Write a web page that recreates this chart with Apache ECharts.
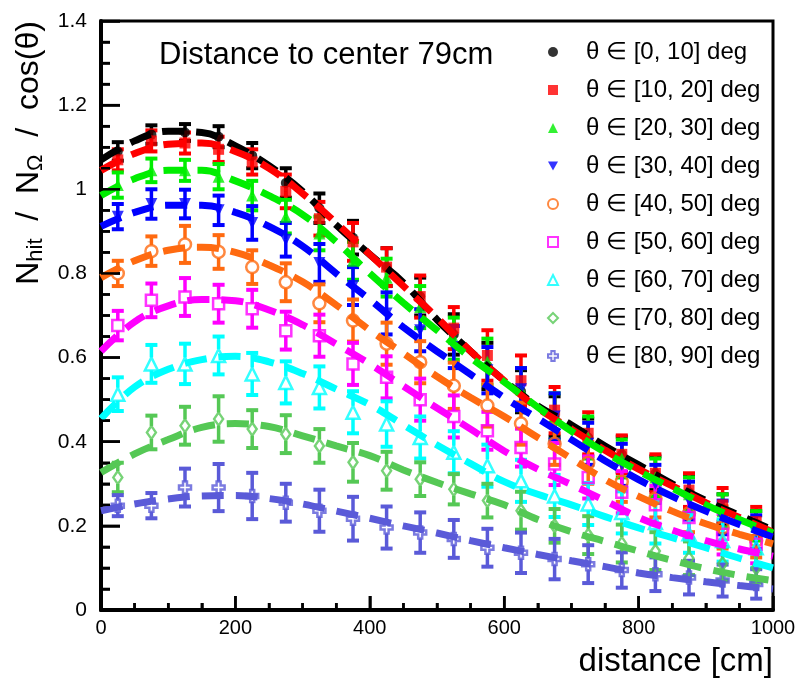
<!DOCTYPE html>
<html>
<head>
<meta charset="utf-8">
<title>Nhit / NΩ / cos(θ) vs distance</title>
<script src="https://cdn.jsdelivr.net/npm/echarts@6/dist/echarts.min.js"></script>
<style>
  html, body { margin: 0; padding: 0; background: #ffffff; }
  #chart { width: 799px; height: 685px; }
  /* text description of the figure for screen readers */
  #caption { position: absolute; left: 4px; top: 664px; font: 11px "DejaVu Sans Mono", monospace; color: #ffffff; }
</style>
</head>
<body>
<div id="chart"></div>
<div id="caption"></div>
<script>
// Distance bin centres [cm] of the measured points
const distances = [25, 75, 125, 175, 225, 275, 325, 375, 425, 475,
                   525, 575, 625, 675, 725, 775, 825, 875, 925, 975];
// Distances [cm] at which the fitted curves are sampled
const fitDistances = [0, 50, 100, 150, 200, 250, 300, 350, 400, 450, 500,
                      550, 600, 650, 700, 750, 800, 850, 900, 950, 1000];

const binLabels = ['θ ∈ [0, 10] deg', 'θ ∈ [10, 20] deg', 'θ ∈ [20, 30] deg',
                   'θ ∈ [30, 40] deg', 'θ ∈ [40, 50] deg', 'θ ∈ [50, 60] deg',
                   'θ ∈ [60, 70] deg', 'θ ∈ [70, 80] deg', 'θ ∈ [80, 90] deg'];

const xTicks = { min: 0, max: 1000, step: 200, minorStep: 50 };
const yTicks = { min: 0, max: 1.4, step: 0.2, minorStep: 0.05 };

// θ ∈ [0, 10]
const ratio0 = [1.09, 1.13, 1.135, 1.125, 1.08, 1.015, 0.955, 0.885, 0.815, 0.745,
                0.655, 0.58, 0.52, 0.46, 0.41, 0.37, 0.325, 0.28, 0.24, 0.205];
const err0   = [0.022, 0.022, 0.02, 0.025, 0.03, 0.035, 0.035, 0.04, 0.045, 0.045,
                0.048, 0.055, 0.05, 0.048, 0.045, 0.042, 0.04, 0.038, 0.035, 0.03];
const fit0   = [1.07, 1.115, 1.138, 1.135, 1.103, 1.056, 0.995, 0.915, 0.845, 0.778, 0.69,
                0.615, 0.545, 0.485, 0.44, 0.39, 0.345, 0.30, 0.26, 0.225, 0.19];

// θ ∈ [10, 20]
const ratio10 = [1.07, 1.115, 1.11, 1.095, 1.065, 0.995, 0.93, 0.875, 0.815, 0.745,
                 0.67, 0.605, 0.545, 0.475, 0.42, 0.37, 0.325, 0.285, 0.25, 0.21];
const err10   = [0.025, 0.025, 0.025, 0.03, 0.03, 0.04, 0.04, 0.045, 0.045, 0.05,
                 0.05, 0.06, 0.06, 0.055, 0.05, 0.045, 0.045, 0.04, 0.04, 0.035];
const fit10   = [1.045, 1.085, 1.107, 1.11, 1.09, 1.05, 0.99, 0.92, 0.845, 0.77, 0.695,
                 0.615, 0.545, 0.48, 0.43, 0.38, 0.335, 0.295, 0.255, 0.22, 0.185];

// θ ∈ [20, 30]
const ratio20 = [1.01, 1.045, 1.045, 1.03, 0.985, 0.935, 0.895, 0.83, 0.79, 0.72,
                 0.645, 0.59, 0.525, 0.46, 0.41, 0.36, 0.315, 0.275, 0.235, 0.2];
const err20   = [0.03, 0.028, 0.025, 0.03, 0.035, 0.04, 0.04, 0.045, 0.045, 0.05,
                 0.05, 0.055, 0.05, 0.055, 0.05, 0.045, 0.045, 0.04, 0.04, 0.035];
const fit20   = [0.985, 1.025, 1.045, 1.045, 1.02, 0.985, 0.94, 0.875, 0.8, 0.73, 0.665,
                 0.6, 0.542, 0.482, 0.425, 0.375, 0.33, 0.29, 0.25, 0.215, 0.183];

// θ ∈ [30, 40]
const ratio30 = [0.935, 0.965, 0.965, 0.95, 0.92, 0.88, 0.825, 0.77, 0.705, 0.665,
                 0.625, 0.57, 0.525, 0.46, 0.395, 0.345, 0.3, 0.26, 0.22, 0.185];
const err30   = [0.03, 0.035, 0.034, 0.035, 0.04, 0.04, 0.045, 0.045, 0.05, 0.05,
                 0.05, 0.055, 0.05, 0.055, 0.05, 0.05, 0.045, 0.045, 0.04, 0.04];
const fit30   = [0.912, 0.945, 0.962, 0.962, 0.945, 0.912, 0.865, 0.8, 0.738, 0.672, 0.615,
                 0.56, 0.505, 0.455, 0.405, 0.355, 0.31, 0.27, 0.235, 0.203, 0.173];

// θ ∈ [40, 50]
const ratio40 = [0.80, 0.853, 0.869, 0.851, 0.815, 0.779, 0.729, 0.688, 0.633, 0.589,
                 0.533, 0.486, 0.443, 0.395, 0.35, 0.305, 0.265, 0.23, 0.196, 0.165];
const err40   = [0.03, 0.035, 0.044, 0.04, 0.04, 0.045, 0.045, 0.05, 0.05, 0.05,
                 0.055, 0.05, 0.05, 0.05, 0.05, 0.048, 0.045, 0.045, 0.05, 0.04];
const fit40   = [0.79, 0.83, 0.855, 0.862, 0.85, 0.82, 0.78, 0.725, 0.665, 0.61, 0.555,
                 0.505, 0.46, 0.41, 0.36, 0.31, 0.27, 0.235, 0.205, 0.18, 0.157];

// θ ∈ [50, 60]
const ratio50 = [0.676, 0.736, 0.744, 0.728, 0.716, 0.664, 0.652, 0.585, 0.553, 0.50,
                 0.46, 0.426, 0.386, 0.347, 0.315, 0.28, 0.25, 0.22, 0.18, 0.156];
const err50   = [0.035, 0.04, 0.045, 0.045, 0.045, 0.045, 0.05, 0.05, 0.05, 0.05,
                 0.05, 0.045, 0.045, 0.05, 0.05, 0.05, 0.045, 0.05, 0.048, 0.045];
const fit50   = [0.615, 0.685, 0.723, 0.738, 0.735, 0.713, 0.678, 0.632, 0.585, 0.532, 0.48,
                 0.43, 0.378, 0.335, 0.298, 0.26, 0.22, 0.19, 0.165, 0.145, 0.128];

// θ ∈ [60, 70]
const ratio60 = [0.513, 0.585, 0.585, 0.605, 0.561, 0.541, 0.529, 0.47, 0.442, 0.41,
                 0.375, 0.343, 0.307, 0.271, 0.252, 0.232, 0.208, 0.181, 0.165, 0.148];
const err60   = [0.04, 0.045, 0.048, 0.045, 0.05, 0.05, 0.05, 0.05, 0.054, 0.05,
                 0.05, 0.05, 0.05, 0.05, 0.05, 0.05, 0.05, 0.045, 0.05, 0.048];
const fit60   = [0.455, 0.53, 0.572, 0.595, 0.603, 0.59, 0.562, 0.525, 0.488, 0.44, 0.392,
                 0.348, 0.305, 0.275, 0.25, 0.222, 0.195, 0.172, 0.148, 0.123, 0.10];

// θ ∈ [70, 80]
const ratio70 = [0.315, 0.422, 0.438, 0.454, 0.43, 0.418, 0.39, 0.351, 0.331, 0.311,
                 0.287, 0.26, 0.236, 0.2, 0.178, 0.158, 0.14, 0.123, 0.11, 0.1];
const err70   = [0.035, 0.04, 0.045, 0.054, 0.045, 0.045, 0.04, 0.046, 0.045, 0.04,
                 0.036, 0.04, 0.045, 0.04, 0.045, 0.045, 0.045, 0.04, 0.04, 0.035];
const fit70   = [0.327, 0.371, 0.405, 0.434, 0.443, 0.436, 0.414, 0.39, 0.367, 0.333, 0.303,
                 0.276, 0.25, 0.215, 0.186, 0.163, 0.14, 0.118, 0.098, 0.082, 0.07];

// θ ∈ [80, 90]
const ratio80 = [0.248, 0.248, 0.291, 0.291, 0.271, 0.255, 0.236, 0.217, 0.196, 0.184,
                 0.169, 0.148, 0.136, 0.121, 0.109, 0.095, 0.085, 0.077, 0.07, 0.062];
const err80   = [0.025, 0.03, 0.045, 0.056, 0.055, 0.045, 0.05, 0.052, 0.05, 0.048,
                 0.045, 0.045, 0.048, 0.048, 0.045, 0.042, 0.04, 0.04, 0.038, 0.035];
const fit80   = [0.236, 0.252, 0.264, 0.271, 0.272, 0.265, 0.252, 0.235, 0.218, 0.2, 0.183,
                 0.165, 0.148, 0.132, 0.117, 0.103, 0.088, 0.077, 0.067, 0.058, 0.05];

const ratios = [ratio0, ratio10, ratio20, ratio30, ratio40, ratio50, ratio60, ratio70, ratio80];
const errors = [err0, err10, err20, err30, err40, err50, err60, err70, err80];
const fits   = [fit0, fit10, fit20, fit30, fit40, fit50, fit60, fit70, fit80];

// Marker appearance per θ bin (filled markers first, then open ones)
const plusPath = 'path://M-1,-3 L1,-3 L1,-1 L3,-1 L3,1 L1,1 L1,3 L-1,3 L-1,1 L-3,1 L-3,-1 L-1,-1 Z';
const downTriangle = 'path://M-5,-4 L5,-4 L0,5 Z';
const markerStyles = [
  { color: '#000000', symbol: 'circle',     size: 10,      open: false },
  { color: '#ff0000', symbol: 'rect',       size: 11,      open: false },
  { color: '#00ee00', symbol: 'triangle',   size: 12,      open: false },
  { color: '#0000ff', symbol: downTriangle, size: 12,      open: false },
  { color: '#ff6a10', symbol: 'circle',     size: 12,      open: true  },
  { color: '#ff00ff', symbol: 'rect',       size: 11,      open: true  },
  { color: '#00ffff', symbol: 'triangle',   size: 13,      open: true  },
  { color: '#55c855', symbol: 'diamond',    size: [9, 13], open: true  },
  { color: '#5a5ad8', symbol: plusPath,     size: 12,      open: true  }
];

const FONT = '"Liberation Sans", Arial, Helvetica, sans-serif';

// Vertical error bar with end caps; for open markers the bar stops at the marker edge
function errorBarSeries(idx) {
  const st = markerStyles[idx];
  const gap = st.open ? (Array.isArray(st.size) ? st.size[1] : st.size) / 2 : 0;
  return {
    type: 'custom',
    name: 'err ' + binLabels[idx],
    dimensions: ['x', 'y', 'e'],
    encode: { x: 0, y: 1 },
    data: distances.map((d, i) => [d, ratios[idx][i], errors[idx][i]]),
    renderItem: function (params, api) {
      const x = api.value(0), y = api.value(1), e = api.value(2);
      const hi = api.coord([x, y + e]);
      const lo = api.coord([x, y - e]);
      const c = api.coord([x, y]);
      const style = { stroke: st.color, lineWidth: 3.5 };
      const capStyle = { stroke: st.color, lineWidth: 4 };
      const w = 6;
      return {
        type: 'group',
        children: [
          { type: 'line', shape: { x1: c[0], y1: lo[1], x2: c[0], y2: c[1] + gap }, style: style },
          { type: 'line', shape: { x1: c[0], y1: c[1] - gap, x2: c[0], y2: hi[1] }, style: style },
          { type: 'line', shape: { x1: c[0] - w, y1: hi[1], x2: c[0] + w, y2: hi[1] }, style: capStyle },
          { type: 'line', shape: { x1: c[0] - w, y1: lo[1], x2: c[0] + w, y2: lo[1] }, style: capStyle }
        ]
      };
    }
  };
}

function fitSeries(idx) {
  return {
    type: 'line',
    name: 'fit ' + binLabels[idx],
    data: fitDistances.map((d, i) => [d, fits[idx][i]]),
    symbol: 'none',
    smooth: 0.4,
    lineStyle: { color: markerStyles[idx].color, width: 7, type: [22, 12] }
  };
}

function pointSeries(idx) {
  const st = markerStyles[idx];
  return {
    type: 'scatter',
    name: binLabels[idx],
    data: distances.map((d, i) => [d, ratios[idx][i]]),
    symbol: st.symbol,
    symbolSize: st.size,
    itemStyle: st.open
      ? { color: 'rgba(255,255,255,0)', borderColor: st.color, borderWidth: 2.5 }
      : { color: st.color, borderWidth: 0 }
  };
}

// Inward-pointing frame ticks (major + minor) placed through the axis scales.
// Each entry: [x value, y value, axis (0 = x, 1 = y), tick length in px]
function frameTickSeries() {
  const ticks = [];
  const nx = Math.round((xTicks.max - xTicks.min) / xTicks.minorStep);
  const xEvery = Math.round(xTicks.step / xTicks.minorStep);
  for (let k = 0; k <= nx; k++) {
    ticks.push([xTicks.min + k * xTicks.minorStep, yTicks.min, 0, k % xEvery === 0 ? 14 : 7]);
  }
  const ny = Math.round((yTicks.max - yTicks.min) / yTicks.minorStep);
  const yEvery = Math.round(yTicks.step / yTicks.minorStep);
  for (let k = 0; k <= ny; k++) {
    const v = +(yTicks.min + k * yTicks.minorStep).toFixed(4);
    ticks.push([xTicks.min, v, 1, k % yEvery === 0 ? 19 : 9]);
  }
  return {
    type: 'custom',
    name: 'frame ticks',
    silent: true,
    z: 5,
    dimensions: ['x', 'y', 'axis', 'len'],
    encode: { x: 0, y: 1 },
    data: ticks,
    renderItem: function (params, api) {
      const p = api.coord([api.value(0), api.value(1)]);
      const axis = api.value(2), len = api.value(3);
      const style = { stroke: '#000', lineWidth: 2.5 };
      if (axis === 0) {
        return { type: 'line', shape: { x1: p[0], y1: p[1], x2: p[0], y2: p[1] - len }, style: style };
      }
      return { type: 'line', shape: { x1: p[0], y1: p[1], x2: p[0] + len, y2: p[1] }, style: style };
    }
  };
}

const series = [];
for (let i = 0; i < binLabels.length; i++) {
  series.push(fitSeries(i));
  series.push(errorBarSeries(i));
  series.push(pointSeries(i));
}
series.push(frameTickSeries());

const chart = echarts.init(document.getElementById('chart'));

chart.setOption({
  animation: false,
  grid: {
    left: 101, right: 26, top: 21, bottom: 75,
    show: true, borderColor: '#000000', borderWidth: 3
  },
  xAxis: {
    type: 'value',
    min: xTicks.min, max: xTicks.max, interval: xTicks.step,
    axisLine: { show: true, onZero: false, lineStyle: { color: '#000', width: 4 } },
    axisTick: { show: true, inside: true, length: 14, lineStyle: { color: '#000', width: 2.5 } },
    minorTick: { show: true, splitNumber: 4, length: 7, lineStyle: { color: '#000', width: 2.5 } },
    splitLine: { show: false },
    axisLabel: { color: '#000', fontSize: 20, fontFamily: FONT, margin: 8, formatter: v => String(v) }
  },
  yAxis: {
    type: 'value',
    min: yTicks.min, max: yTicks.max, interval: yTicks.step,
    axisLine: { show: true, onZero: false, lineStyle: { color: '#000', width: 4 } },
    axisTick: { show: true, inside: true, length: 19, lineStyle: { color: '#000', width: 2.5 } },
    minorTick: { show: true, splitNumber: 4, length: 9, lineStyle: { color: '#000', width: 2.5 } },
    splitLine: { show: false },
    axisLabel: { color: '#000', fontSize: 21, fontFamily: FONT, margin: 14 }
  },
  legend: {
    orient: 'vertical',
    left: 542, top: 33,
    itemWidth: 10, itemHeight: 10, itemGap: 10,
    selectedMode: false,
    data: binLabels,
    textStyle: { color: '#000', fontSize: 24, fontFamily: FONT, lineHeight: 28, padding: [0, 0, 0, 23] }
  },
  graphic: [
    {
      type: 'text', x: 159, y: 55,
      style: { text: 'Distance to center 79cm', fontSize: 31, fontFamily: FONT, fill: '#000',
               align: 'left', verticalAlign: 'middle' }
    },
    {
      type: 'text', x: 773, y: 662,
      style: { text: 'distance [cm]', fontSize: 33, fontFamily: FONT, fill: '#000',
               align: 'right', verticalAlign: 'middle' }
    },
    {
      type: 'text', x: 29, y: 153, rotation: Math.PI / 2,
      style: {
        text: '{m|N}{s|hit}{m|  /  N}{s|Ω}{m|  /  cos(θ)}',
        align: 'center', verticalAlign: 'middle', fill: '#000',
        rich: {
          m: { fontSize: 32, fontFamily: FONT, lineHeight: 36, fill: '#000' },
          s: { fontSize: 22, fontFamily: FONT, lineHeight: 18, verticalAlign: 'bottom', fill: '#000' }
        }
      }
    }
  ],
  series: series
});

// Screen-reader description, with the number of drawn elements
const drawn = chart.getZr().storage.getDisplayList(true);
let strokes = 0;
drawn.forEach(el => { if (el.type === 'line' && el.style && el.style.lineWidth === 2.5) strokes++; });
document.getElementById('caption').textContent =
  'Nhit / NΩ / cos(θ) vs distance, 9 θ bins, ' + strokes + ' ticks, ' + drawn.length + ' elements';
</script>
</body>
</html>
